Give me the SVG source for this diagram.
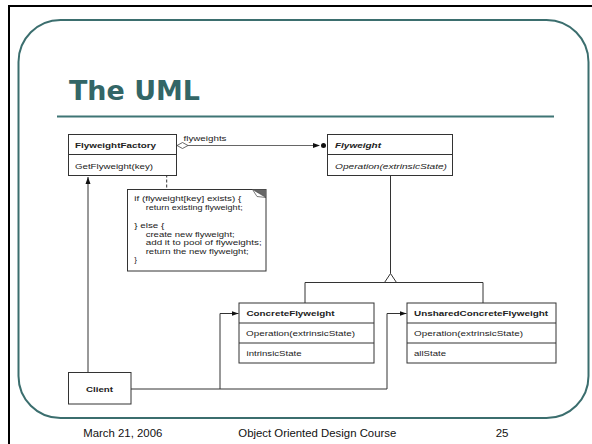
<svg xmlns="http://www.w3.org/2000/svg" width="592" height="444" viewBox="0 0 592 444">
<style>
.box{fill:#fff;stroke:#333;stroke-width:1}
.div{stroke:#333;stroke-width:1}
.t{font-family:"Liberation Sans",Arial,sans-serif;font-size:8px;fill:#222}
.b{font-weight:bold}
.i{font-style:italic}
.c{fill:none;stroke:#333;stroke-width:1}
.foot{font-family:"Liberation Sans",Arial,sans-serif;font-size:11.5px;fill:#111}
</style>
<defs>
<marker id="arr" markerWidth="8" markerHeight="6" refX="7" refY="3" orient="auto" markerUnits="userSpaceOnUse">
<path d="M0,0.5 L7,3 L0,5.5 Z" fill="#111"/>
</marker>
</defs>
<rect width="592" height="444" fill="#fff"/>
<path d="M9,444 V6 H592" fill="none" stroke="#000" stroke-width="2"/>
<rect x="18.5" y="20" width="570" height="398" rx="42" ry="42" fill="none" stroke="#3b6e6e" stroke-width="2"/>
<text x="69" y="100" font-family="DejaVu Sans,sans-serif" font-weight="bold" font-size="27" fill="#336666" textLength="131" lengthAdjust="spacingAndGlyphs">The UML</text>
<line x1="57" y1="116.5" x2="554" y2="116.5" stroke="#3f7575" stroke-width="2"/>

<g id="connectors">
<line x1="188" y1="145.5" x2="313" y2="145.5" stroke="#666" stroke-width="1"/>
<path d="M177,145.5 L182.5,142.5 L188,145.5 L182.5,148.5 Z" fill="#fff" stroke="#444" stroke-width="0.8"/>
<path d="M313,143 L320,145.5 L313,148 Z" fill="#111"/>
<circle cx="323.5" cy="145.5" r="2.5" fill="#111"/>
<text class="t" x="183.5" y="140.5" textLength="43" lengthAdjust="spacingAndGlyphs">flyweights</text>
<circle cx="166.7" cy="162.5" r="2" fill="#fff" stroke="#333" stroke-width="0.8"/>
<line x1="166.7" y1="164.5" x2="166.7" y2="189" stroke="#333" stroke-width="1" stroke-dasharray="3,2"/>
<line x1="390.5" y1="176" x2="390.5" y2="273.5" class="c"/>
<path d="M390.5,273.5 L384.5,282.5 L396.5,282.5 Z" fill="#fff" stroke="#333" stroke-width="1"/>
<path d="M305,303 V282.5 H483 V303" class="c"/>
<line x1="88" y1="372" x2="88" y2="177" class="c" marker-end="url(#arr)"/>
<path d="M131,389 H220 V313.5 H238.5" class="c" marker-end="url(#arr)"/>
<path d="M220,389 H387 V313.5 H406.5" class="c" marker-end="url(#arr)"/>
</g>

<g id="flyweightFactory">
<rect class="box" x="68.5" y="134.5" width="108" height="41"/>
<line class="div" x1="68.5" y1="154.5" x2="176.5" y2="154.5"/>
<text class="t b" x="75" y="147.5" textLength="81" lengthAdjust="spacingAndGlyphs">FlyweightFactory</text>
<text class="t" x="75" y="168.5" textLength="78" lengthAdjust="spacingAndGlyphs">GetFlyweight(key)</text>
</g>

<g id="note">
<rect class="box" x="127.5" y="189.5" width="138.5" height="81.5"/>
<path d="M252.5,189.5 L266,189.5 L266,197.5 Z" fill="#666"/>
<path d="M252.5,189.5 L266,197.5 L257,196.5 Z" fill="#fff" stroke="#444" stroke-width="0.7"/>
<text class="t" x="134.3" y="201" textLength="107" lengthAdjust="spacingAndGlyphs">if (flyweight[key] exists) {</text>
<text class="t" x="145.7" y="210" textLength="97" lengthAdjust="spacingAndGlyphs">return existing flyweight;</text>
<text class="t" x="134.3" y="228" textLength="30" lengthAdjust="spacingAndGlyphs">} else {</text>
<text class="t" x="145.7" y="236.5" textLength="89" lengthAdjust="spacingAndGlyphs">create new flyweight;</text>
<text class="t" x="145.7" y="245" textLength="116" lengthAdjust="spacingAndGlyphs">add it to pool of flyweights;</text>
<text class="t" x="145.7" y="253.5" textLength="103" lengthAdjust="spacingAndGlyphs">return the new flyweight;</text>
<text class="t" x="134.3" y="262">}</text>
</g>

<g id="flyweight">
<rect class="box" x="327.5" y="134.5" width="125" height="41"/>
<line class="div" x1="327.5" y1="154.5" x2="452.5" y2="154.5"/>
<text class="t b i" x="335" y="147.5" textLength="46" lengthAdjust="spacingAndGlyphs">Flyweight</text>
<text class="t i" x="335" y="168.5" textLength="112" lengthAdjust="spacingAndGlyphs">Operation(extrinsicState)</text>
</g>

<g id="concreteFlyweight">
<rect class="box" x="239" y="303" width="135" height="60"/>
<line class="div" x1="239" y1="323" x2="374" y2="323"/>
<line class="div" x1="239" y1="343" x2="374" y2="343"/>
<text class="t b" x="246.5" y="316" textLength="88" lengthAdjust="spacingAndGlyphs">ConcreteFlyweight</text>
<text class="t" x="246" y="336" textLength="109" lengthAdjust="spacingAndGlyphs">Operation(extrinsicState)</text>
<text class="t" x="246.5" y="356" textLength="55" lengthAdjust="spacingAndGlyphs">intrinsicState</text>
</g>

<g id="unsharedConcreteFlyweight">
<rect class="box" x="407" y="303" width="149" height="60"/>
<line class="div" x1="407" y1="323" x2="556" y2="323"/>
<line class="div" x1="407" y1="343" x2="556" y2="343"/>
<text class="t b" x="414" y="316" textLength="134" lengthAdjust="spacingAndGlyphs">UnsharedConcreteFlyweight</text>
<text class="t" x="414" y="336" textLength="109" lengthAdjust="spacingAndGlyphs">Operation(extrinsicState)</text>
<text class="t" x="414" y="356" textLength="32" lengthAdjust="spacingAndGlyphs">allState</text>
</g>

<g id="client">
<rect class="box" x="68.5" y="372.5" width="62.5" height="31.5"/>
<text class="t b" x="86" y="391.5" textLength="27" lengthAdjust="spacingAndGlyphs">Client</text>
</g>

<text class="foot" x="83.3" y="436.7" textLength="79" lengthAdjust="spacingAndGlyphs">March 21, 2006</text>
<text class="foot" x="238.3" y="436.7" textLength="158" lengthAdjust="spacingAndGlyphs">Object Oriented Design Course</text>
<text class="foot" x="495.7" y="436.7">25</text>
</svg>
